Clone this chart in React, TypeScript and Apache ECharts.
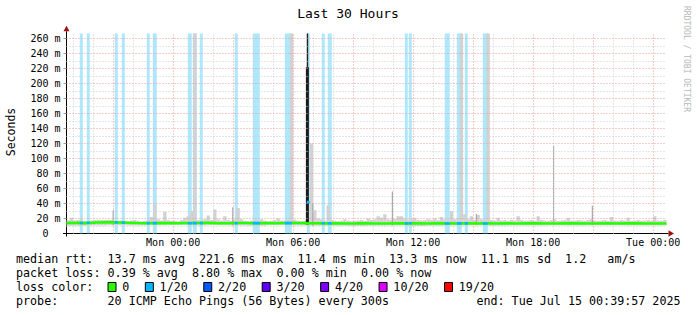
import { useEffect, useRef } from 'react';
import * as echarts from 'echarts';

// ---- time frame (hours relative to Mon 00:00) ----
const X_MIN = -5.334; // Sun 18:39:57
const X_MAX = 24.666; // Tue 00:39:57
const Y_MAX = 267;

const xLabelHours = [0, 6, 12, 18, 24];
const xLabelTexts = ['Mon 00:00', 'Mon 06:00', 'Mon 12:00', 'Mon 18:00', 'Tue 00:00'];
const yLabelValues = [0, 20, 40, 60, 80, 100, 120, 140, 160, 180, 200, 220, 240, 260];

// ---- median rtt, every 30 minutes from X_MIN (ms) ----
const medianStep = 0.5;
const medianValues = [
  14.0, 14.2, 13.8, 14.6, 15.0, 14.8, 14.4, 13.9, 13.6, 13.8,
  14.0, 13.7, 13.9, 14.1, 14.3, 13.8, 13.6, 14.0, 13.9, 13.7,
  13.8, 13.6, 13.9, 14.0, 13.8, 13.7, 13.5, 13.6, 13.4, 13.5,
  13.7, 13.4, 13.3, 13.6, 13.5, 13.7, 13.4, 13.6, 13.5, 13.3,
  13.5, 13.4, 13.6, 13.3, 13.5, 13.4, 13.6, 13.5, 13.4, 13.3,
  13.5, 13.6, 13.4, 13.3, 13.5, 13.4, 13.6, 13.5, 13.3, 13.4,
  13.3,
];

// ---- smoke (ping spread), every 10 minutes from X_MIN (ms) ----
const smokeStep = 1 / 6;
const smokeHigh = [
  18, 21, 17.5, 18, 19, 17, 16.5, 17.5, 18, 18.5,
  18, 18, 18.5, 18, 17, 16.5, 17.5, 17, 16, 17.5,
  18, 17, 16.5, 17, 18, 22, 38.6, 19, 17.5, 29,
  18, 17, 17.5, 16.5, 18, 21, 23, 30, 267, 18,
  17.5, 19, 24, 18, 32, 19, 17.5, 23, 18, 17,
  18.5, 34, 19, 17, 16.5, 17.5, 18, 17, 19, 17.5,
  16.5, 17, 18, 20, 17.5, 17, 18, 267, 18.5, 17,
  16.5, 17, 18, 120, 31, 20, 19, 17.5, 37.7, 18,
  17, 16.5, 17, 19, 17.5, 16.5, 17, 17.5, 18, 17,
  20, 18, 19, 23, 21, 25.6, 19, 18, 19.5, 23,
  23, 20, 18.5, 19, 21, 18, 17.5, 18, 19, 18.5,
  20, 18, 22, 19, 18.5, 30, 19, 20, 267, 25.6,
  19, 23, 18, 25, 19, 18, 267, 18, 17.5, 21,
  17.5, 18, 17, 18.5, 17.5, 23, 18, 17, 17.5, 18,
  17, 23, 18, 17.5, 17, 18, 19, 17, 17.5, 18,
  21, 17.5, 17, 18, 17.5, 17, 18, 19, 17.5, 17,
  17.5, 18, 17, 22, 17.5, 17, 18, 17.5, 21, 17,
  17.5, 18, 17, 17.5, 18, 17, 23, 17.5, 17, 18,
];
// lower edge of the smoke, per hour from X_MIN (ms)
const smokeLowHourly = [
  10.5, 10.8, 11.0, 10.6, 10.9, 11.2, 10.7, 11.0, 10.8, 10.5,
  10.9, 10.6, 10.4, 10.2, 10.0, 10.3, 10.6, 10.1, 10.4, 10.7,
  10.9, 10.5, 10.8, 10.6, 11.0, 10.7, 10.9, 11.1, 10.8, 10.6,
];

// single thin ping spikes
const thinSpikeHours = [-3.03, 2.95, 6.95, 10.93, 15.13, 18.99, 20.93];
const thinSpikeTops = [31, 35, 40, 56, 26, 117, 37];

// big latency spike
const spikeStart = [6.635];
const spikeEnd = [6.785];
const spikeMedian = [221.6];
const spikeTop = [267];

// 1/20 packet loss periods
const lossBandStart = [-4.67, -4.32, -2.92, -2.57, -1.32, -1.02, 0.73, 0.98, 1.33, 3.08, 3.98, 5.58, 6.68, 7.43, 7.73, 11.58, 11.78, 13.58, 14.18, 14.58, 15.48];
const lossBandEnd = [-4.52, -4.17, -2.77, -2.42, -1.17, -0.82, 0.93, 1.18, 1.48, 3.23, 4.33, 5.93, 6.83, 7.58, 7.93, 11.73, 11.93, 13.83, 14.43, 14.73, 15.73];
const lossBandMedian = [14.0, 14.4, 14.8, 14.5, 13.8, 13.9, 13.7, 13.9, 13.8, 13.6, 13.9, 13.8, 42, 13.7, 13.6, 13.5, 13.6, 13.4, 13.5, 13.5, 13.4];

// legend values
const rttStats = [13.7, 221.6, 11.4, 13.3, 11.1];
const rttStatNames = ['avg', 'max', 'min', 'now', 'sd'];
const amPerSecond = 1.2;
const lossStats = [0.39, 8.8, 0.0, 0.0];
const lossStatNames = ['avg', 'max', 'min', 'now'];
const lossLabels = ['0', '1/20', '2/20', '3/20', '4/20', '10/20', '19/20'];
const lossColors = ['#26ff00', '#00b8ff', '#0059ff', '#5e00ff', '#7e00ff', '#dd00ff', '#ff0000'];
const probeText = '20 ICMP Echo Pings (56 Bytes) every 300s';
const endText = 'end: Tue Jul 15 00:39:57 2025';

const FONT = "'DejaVu Sans Mono', monospace";
const CW = 7.04;
const LEG_X = 16;
const ROWS = [259, 273, 287, 301];

function legendGraphics(): any[] {
  const els: any[] = [];
  const txt = (col: number, row: number, text: string) =>
    els.push({
      type: 'text', x: LEG_X + col * CW, y: ROWS[row],
      style: { text, fontFamily: FONT, fontSize: 11.7, fill: '#000', align: 'left', verticalAlign: 'middle' },
    });
  // row 0
  txt(0, 0, 'median rtt:');
  let col = 13;
  rttStats.forEach((v, i) => {
    const t = `${v.toFixed(1)} ms ${rttStatNames[i]}`;
    txt(col, 0, t);
    col += t.length + 2;
  });
  txt(col, 0, amPerSecond.toFixed(1));
  col += 3 + 3;
  txt(col, 0, 'am/s');
  // row 1
  txt(0, 1, 'packet loss:');
  col = 13;
  lossStats.forEach((v, i) => {
    const t = `${v.toFixed(2)} % ${lossStatNames[i]}`;
    txt(col, 1, t);
    col += t.length + 2;
  });
  // row 2
  txt(0, 2, 'loss color:');
  col = 13;
  lossLabels.forEach((l, i) => {
    els.push({
      type: 'rect',
      shape: { x: LEG_X + col * CW + 0.5, y: ROWS[2] - 4.5, width: 8, height: 9 },
      style: { fill: lossColors[i], stroke: '#000', lineWidth: 1 },
    });
    txt(col + 2.1, 2, l);
    col += 2.1 + l.length + 2.2;
  });
  // row 3
  txt(0, 3, 'probe:');
  txt(13, 3, probeText);
  els.push({
    type: 'text', x: 680.5, y: ROWS[3],
    style: { text: endText, fontFamily: FONT, fontSize: 11.7, fill: '#000', align: 'right', verticalAlign: 'middle' },
  });
  return els;
}

export default function App() {
  const ref = useRef<HTMLDivElement>(null);
  useEffect(() => {
    if (!ref.current) return;
    const chart = echarts.init(ref.current, undefined, { renderer: 'svg' });

    const medianData = medianValues.map((v, k) => [X_MIN + k * medianStep, v]);
    const smokeData = smokeHigh.map((h, i) => {
      const t = X_MIN + i * smokeStep;
      return [t, t + smokeStep, smokeLowHourly[Math.min(29, Math.floor(i / 6))], h];
    });
    const bandData = lossBandStart.map((s, i) => [s, lossBandEnd[i], lossBandMedian[i]]);
    const thinData = thinSpikeHours.map((h, i) => [h, thinSpikeTops[i], smokeLowHourly[Math.min(29, Math.floor((h - X_MIN)))]]);
    const spikeData = spikeStart.map((s, i) => [s, spikeEnd[i], spikeMedian[i], spikeTop[i]]);

    const gridMarks: any[] = [];
    for (let h = Math.ceil(X_MIN); h <= Math.floor(X_MAX); h++) {
      const major = ((h % 3) + 3) % 3 === 0;
      gridMarks.push({ xAxis: h, lineStyle: { color: major ? '#e99a9a' : '#cfcfcf', type: [1, 2], width: 1 } });
    }
    for (let v = 10; v < Y_MAX; v += 10) {
      const major = v % 20 === 0;
      gridMarks.push({ yAxis: v, lineStyle: { color: major ? '#e99a9a' : '#cfcfcf', type: [1, 2], width: 1 } });
    }

    chart.setOption({
      animation: false,
      backgroundColor: '#fff',
      grid: { left: 66.5, top: 33.25, width: 600, height: 200.25, containLabel: false },
      xAxis: {
        type: 'value', min: X_MIN, max: X_MAX,
        axisLine: { show: false }, axisTick: { show: false }, splitLine: { show: false },
        axisLabel: {
          customValues: xLabelHours,
          formatter: (v: number) => xLabelTexts[xLabelHours.indexOf(v)] ?? '',
          fontFamily: FONT, fontSize: 10, color: '#000', margin: 4,
        },
      },
      yAxis: {
        type: 'value', min: 0, max: Y_MAX, interval: 20,
        axisLine: { show: false }, axisTick: { show: false }, splitLine: { show: false },
        axisLabel: {
          margin: 6,
          formatter: (v: number) => (yLabelValues.includes(v) ? (v === 0 ? '{z|0}' : `{a|${v} m}`) : ''),
          rich: {
            a: { fontFamily: FONT, fontSize: 10, color: '#000' },
            z: { fontFamily: FONT, fontSize: 10, color: '#000', padding: [0, 12, 0, 0] },
          },
        },
      },
      series: [
        {
          type: 'line', z: 1, data: [[X_MIN, 0]], showSymbol: false, lineStyle: { opacity: 0 }, silent: true,
          markLine: { silent: true, symbol: ['none', 'none'], label: { show: false }, animation: false, data: gridMarks },
        },
        {
          type: 'custom', z: 2, data: bandData, encode: { x: [0, 1], y: 2 }, silent: true, clip: true,
          renderItem: (_p: any, api: any) => {
            const a = api.coord([api.value(0), Y_MAX]);
            const b = api.coord([api.value(1), 0]);
            return { type: 'rect', shape: { x: a[0], y: a[1], width: b[0] - a[0], height: b[1] - a[1] }, style: { fill: '#ade8fc' } };
          },
        },
        {
          type: 'custom', z: 3, data: smokeData, encode: { x: [0, 1], y: [2, 3] }, silent: true, clip: true,
          renderItem: (_p: any, api: any) => {
            const a = api.coord([api.value(0), Math.min(api.value(3), Y_MAX)]);
            const b = api.coord([api.value(1), api.value(2)]);
            return { type: 'rect', shape: { x: a[0], y: a[1], width: b[0] - a[0], height: b[1] - a[1] }, style: { fill: '#d2d2d2' } };
          },
        },
        {
          type: 'custom', z: 3, data: thinData, encode: { x: 0, y: [1, 2] }, silent: true, clip: true,
          renderItem: (_p: any, api: any) => {
            const a = api.coord([api.value(0), api.value(1)]);
            const b = api.coord([api.value(0), api.value(2)]);
            return { type: 'rect', shape: { x: a[0], y: a[1], width: 1.2, height: b[1] - a[1] }, style: { fill: '#a8a8a8' } };
          },
        },
        {
          type: 'custom', z: 4, data: spikeData, encode: { x: [0, 1], y: [2, 3] }, silent: true, clip: true,
          renderItem: (_p: any, api: any) => {
            const a = api.coord([api.value(0), api.value(2)]);
            const b = api.coord([api.value(1), 12]);
            const top = api.coord([api.value(0), Math.min(api.value(3), Y_MAX)]);
            const w = b[0] - a[0];
            return {
              type: 'group',
              children: [
                { type: 'rect', shape: { x: a[0], y: a[1], width: w, height: b[1] - a[1] }, style: { fill: '#1a1a1a' } },
                { type: 'rect', shape: { x: a[0] + w * 0.3, y: top[1], width: 1.4, height: a[1] - top[1] }, style: { fill: '#222' } },
              ],
            };
          },
        },
        {
          type: 'line', z: 5, data: medianData, showSymbol: false, silent: true,
          lineStyle: { color: '#26ff00', width: 2.6 },
        },
        {
          type: 'custom', z: 6, data: bandData, encode: { x: [0, 1], y: 2 }, silent: true, clip: true,
          renderItem: (_p: any, api: any) => {
            const a = api.coord([api.value(0), api.value(2)]);
            const b = api.coord([api.value(1), api.value(2)]);
            return { type: 'rect', shape: { x: a[0], y: a[1] - 1.3, width: b[0] - a[0], height: 2.6 }, style: { fill: '#00b8ff' } };
          },
        },
      ],
    });

    const [x0, y0] = chart.convertToPixel({ gridIndex: 0 }, [X_MIN, 0]) as number[];
    const [x1, y1] = chart.convertToPixel({ gridIndex: 0 }, [X_MAX, Y_MAX]) as number[];
    const axisColor = '#000';
    const arrowColor = '#a01010';
    const ticks = yLabelValues.map((v) => {
      const p = chart.convertToPixel({ gridIndex: 0 }, [X_MIN, v]) as number[];
      return { type: 'line', shape: { x1: x0 - 3, y1: p[1], x2: x0, y2: p[1] }, style: { stroke: '#999', lineWidth: 1 } };
    });
    chart.setOption({
      graphic: [
        {
          type: 'text', x: 348, y: 13.5,
          style: { text: 'Last 30 Hours', fontFamily: FONT, fontSize: 13, fill: '#000', align: 'center', verticalAlign: 'middle' },
        },
        {
          type: 'text', x: 11, y: 132, rotation: Math.PI / 2,
          style: { text: 'Seconds', fontFamily: FONT, fontSize: 11.5, fill: '#000', align: 'center', verticalAlign: 'middle' },
        },
        {
          type: 'text', x: 686, y: 59, rotation: -Math.PI / 2,
          style: { text: 'RRDTOOL / TOBI OETIKER', fontFamily: FONT, fontSize: 8, fill: '#b8b8b8', align: 'center', verticalAlign: 'middle' },
        },
        ...ticks,
        { type: 'line', shape: { x1: x0 - 3.5, y1: y0, x2: x1 + 2, y2: y0 }, style: { stroke: axisColor, lineWidth: 1 } },
        { type: 'line', shape: { x1: x0, y1: y0 + 3, x2: x0, y2: y1 - 2 }, style: { stroke: axisColor, lineWidth: 1 } },
        { type: 'polygon', shape: { points: [[x1 + 2, y0 - 3.3], [x1 + 2, y0 + 3.3], [x1 + 7.5, y0]] }, style: { fill: arrowColor } },
        { type: 'polygon', shape: { points: [[x0 - 3, y1 - 2], [x0 + 3, y1 - 2], [x0, y1 - 7.5]] }, style: { fill: arrowColor } },
        ...legendGraphics(),
      ],
    });

    return () => chart.dispose();
  }, []);
  return <div ref={ref} style={{ position: 'fixed', left: 0, top: 0, width: 697, height: 315, background: '#fff' }} />;
}
